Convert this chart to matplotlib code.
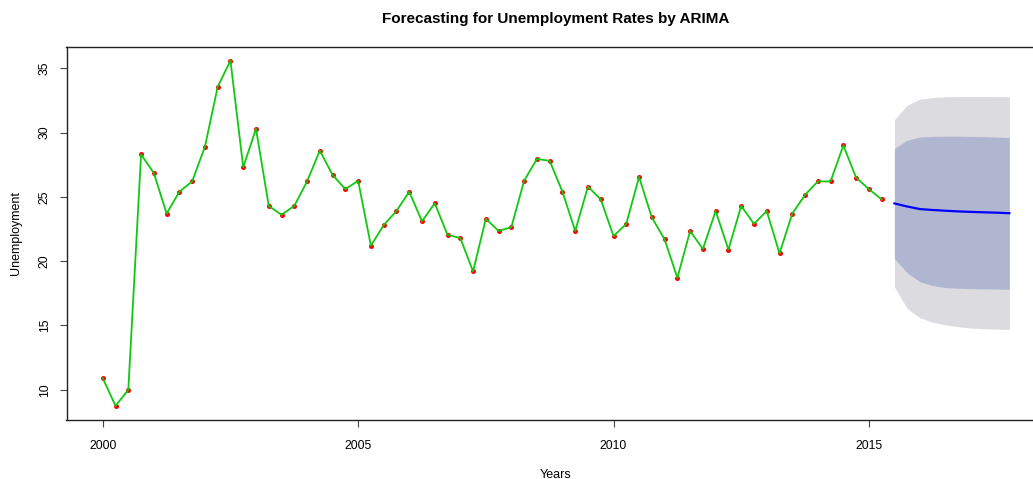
import numpy as np
import matplotlib
matplotlib.use("Agg")
import matplotlib.pyplot as plt

plt.rcParams['font.family'] = ['Liberation Sans', 'DejaVu Sans']

# Quarterly unemployment series, 2000 Q1 - 2015 Q2
start_year = 2000
unemployment = [
    10.9, 8.75, 10.0, 28.3, 26.85, 23.7, 25.4, 26.2, 28.9, 33.55,
    35.6, 27.3, 30.3, 24.3, 23.6, 24.3, 26.2, 28.6, 26.7, 25.6,
    26.25, 21.2, 22.8, 23.9, 25.4, 23.1, 24.5, 22.05, 21.8, 19.2,
    23.3, 22.35, 22.65, 26.25, 27.95, 27.8, 25.4, 22.35, 25.8, 24.8,
    21.95, 22.9, 26.55, 23.4, 21.7, 18.7, 22.35, 20.95, 23.9, 20.9,
    24.3, 22.9, 23.9, 20.6, 23.7, 25.15, 26.2, 26.2, 29.0, 26.5,
    25.6, 24.8,
]

# ARIMA forecast, 2015 Q3 - 2017 Q4, with 80% and 95% intervals
fc_mean = [24.49, 24.25, 24.05, 23.98, 23.92, 23.87, 23.83, 23.80, 23.77, 23.73]
fc_lo80 = [20.21, 19.10, 18.40, 18.10, 17.95, 17.90, 17.87, 17.85, 17.83, 17.82]
fc_hi80 = [28.76, 29.40, 29.65, 29.70, 29.72, 29.72, 29.70, 29.68, 29.65, 29.62]
fc_lo95 = [18.00, 16.32, 15.60, 15.25, 15.05, 14.90, 14.80, 14.75, 14.72, 14.69]
fc_hi95 = [31.00, 32.13, 32.60, 32.72, 32.78, 32.80, 32.80, 32.80, 32.80, 32.78]

x_ticks = [2000, 2005, 2010, 2015]
y_ticks = [10, 15, 20, 25, 30, 35]

n = len(unemployment)
t_obs = start_year + 0.25 * np.arange(n)
t_fc = start_year + 0.25 * np.arange(n, n + len(fc_mean))

W, H = 1033, 479
fig = plt.figure(figsize=(W / 100, H / 100), dpi=100)
left, right, top, bottom = 66.5, 1045.6, 46.7, 419.7
ax = fig.add_axes([left / W, 1 - bottom / H, (right - left) / W, (bottom - top) / H])

ax.fill_between(t_fc, fc_lo95, fc_hi95, color='#DBDBE0', linewidth=0, zorder=1)
ax.fill_between(t_fc, fc_lo80, fc_hi80, color='#B0B5D0', linewidth=0, zorder=2)
ax.plot(t_fc, fc_mean, color='#0000FF', linewidth=1.6, zorder=3)

ax.plot(t_obs, unemployment, linestyle='none', marker='o', markersize=3.6,
        color='#FF0000', markeredgewidth=0, zorder=4)
ax.plot(t_obs, unemployment, color='#11C811', linewidth=1.3, zorder=5)

t_all = np.concatenate([t_obs, t_fc])
xr = t_all.max() - t_all.min()
ax.set_xlim(t_all.min() - 0.04 * xr, t_all.max() + 0.04 * xr)
lo = min(unemployment)
hi = max(unemployment)
yr = hi - lo
ax.set_ylim(lo - 0.04 * yr, hi + 0.04 * yr)

ax.set_xticks(x_ticks)
ax.set_yticks(y_ticks)
ax.set_xticklabels([str(v) for v in x_ticks])
ax.set_yticklabels([str(v) for v in y_ticks], rotation=90, va='center')
ax.tick_params(direction='out', length=5.3, width=0.8, color='#444444',
               labelsize=8.8)
ax.tick_params(axis='x', pad=9.5)
ax.tick_params(axis='y', pad=6)
for s in ax.spines.values():
    s.set_linewidth(1.0)
    s.set_color('#222222')

ax.set_title('Forecasting for Unemployment Rates by ARIMA', fontsize=11,
             fontweight='bold', pad=17)
ax.set_xlabel('Years', fontsize=9, labelpad=12)
ax.set_ylabel('Unemployment', fontsize=9, labelpad=12)

fig.savefig('out.png', dpi=100)
